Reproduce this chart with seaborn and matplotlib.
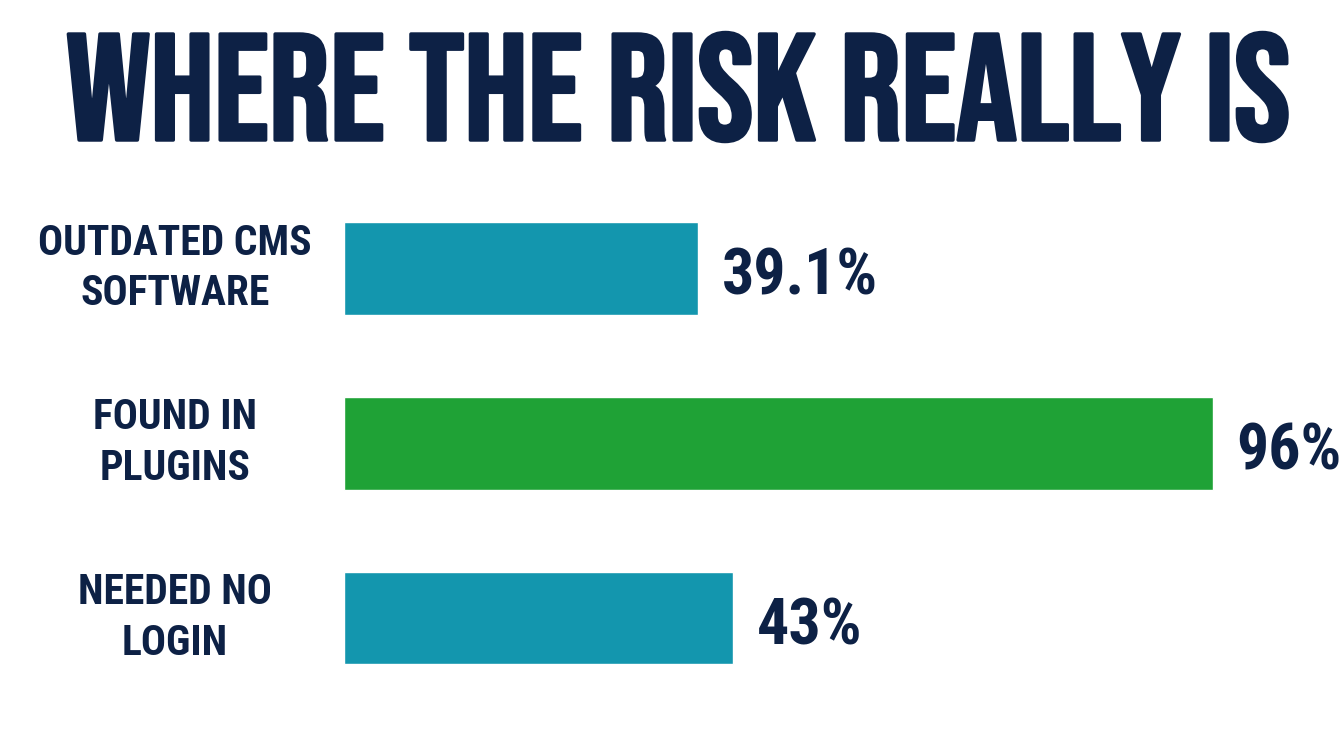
import seaborn as sns
import matplotlib.pyplot as plt
import matplotlib.patheffects as pe
import pandas as pd

categories = ["OUTDATED CMS\nSOFTWARE", "FOUND IN\nPLUGINS", "NEEDED NO\nLOGIN"]
values = [39.1, 96, 43]
value_labels = ["39.1%", "96%", "43%"]
colors = ["#1396AE", "#1FA236", "#1396AE"]

navy = "#0D2145"
cond = ["Roboto Condensed", "DejaVu Sans"]
title_font = ["Bebas Neue", "Roboto Condensed", "DejaVu Sans"]

sns.set_style("white")
plt.rcParams['font.family'] = cond
plt.rcParams['font.stretch'] = "condensed"

df = pd.DataFrame({"cat": categories, "val": values})

fig = plt.figure(figsize=(13.44, 7.52), dpi=100)
ax = fig.add_axes([344 / 1344, 1 - 705.5 / 752, 905 / 1344, 524.5 / 752])
sns.barplot(data=df, x="val", y="cat", hue="cat", palette=colors, legend=False,
            width=0.53, ax=ax, saturation=1)
ax.set_xlim(0, 100)
ax.set_ylim(2.5, -0.5)
ax.set_xlabel("")
ax.set_ylabel("")
ax.set_xticks([])
ax.set_yticks([])
sns.despine(ax=ax, left=True, bottom=True)

# category labels centred left of the bars, values just past the bar ends
for i, (cat, v, lab) in enumerate(zip(categories, values, value_labels)):
    ax.text(-169 / 905, i, cat, transform=ax.get_yaxis_transform(),
            ha="center", va="center", fontsize=30, fontweight="bold", color=navy,
            linespacing=1.3)
    ax.annotate(lab, (v, i), xytext=(17, -19), textcoords="offset points", ha="left",
                va="baseline", fontsize=46, fontweight="bold", color=navy)

fig.text(0.505, 1 - 140 / 752, "WHERE THE RISK REALLY IS", ha="center", va="baseline",
         fontsize=109, fontweight="bold", color=navy, family=title_font,
         path_effects=[pe.withStroke(linewidth=2.5, foreground=navy)])

fig.savefig("out.png", dpi=100, facecolor="white")
